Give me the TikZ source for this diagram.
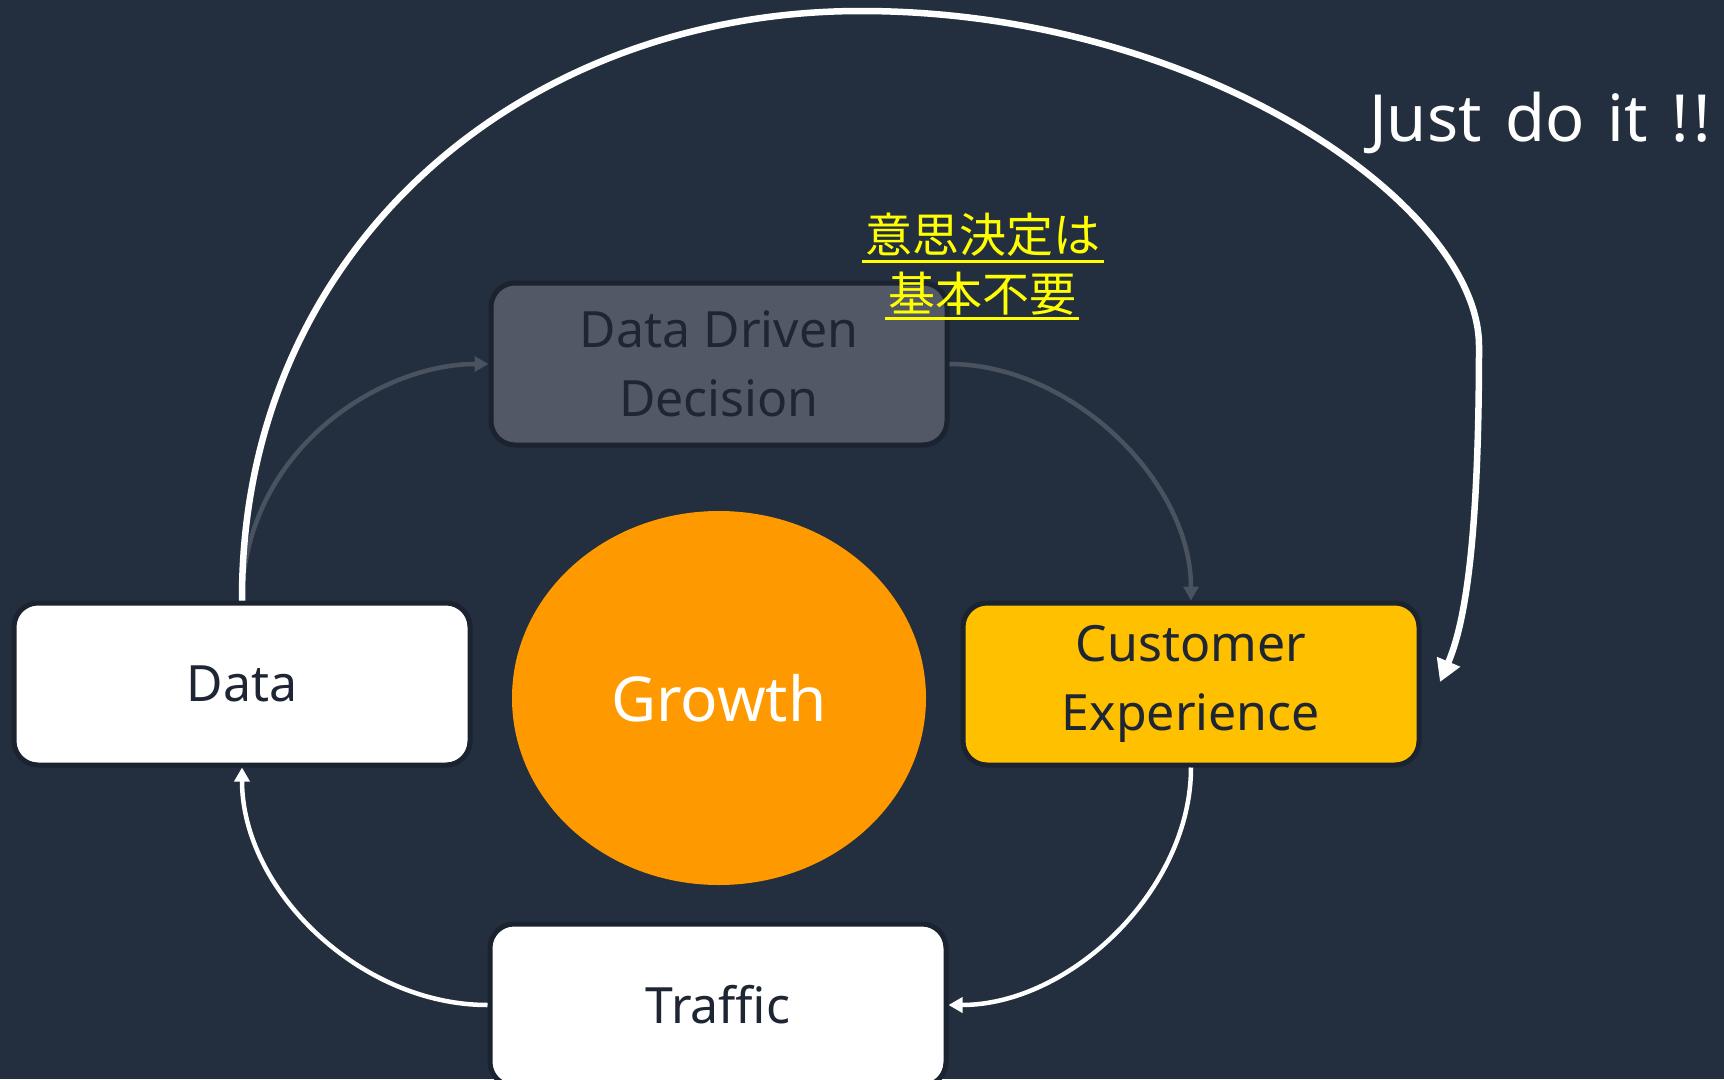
\documentclass[tikz,border=0pt]{standalone}
\usepackage{fontspec}
\setmainfont{Noto Sans}
\newfontfamily\cjk{Noto Sans CJK JP}
\usetikzlibrary{arrows.meta,calc,shapes.geometric}

\definecolor{bg}{HTML}{232F3E}
\definecolor{edgeline}{HTML}{1B2230}
\definecolor{ink}{HTML}{1E2533}
\definecolor{ddfill}{HTML}{525866}
\definecolor{cxfill}{HTML}{FFC000}
\definecolor{growthfill}{HTML}{FF9900}
\definecolor{faint}{HTML}{4A5260}
\definecolor{jpyellow}{HTML}{FFFF00}

\newcommand{\widespaces}{\spaceskip=0.36em\relax}

\begin{document}
\begin{tikzpicture}[x=1pt,y=-1pt,
  box/.style={draw=edgeline, line width=5pt, rounded corners=24pt,
    minimum width=456pt, minimum height=162pt, inner sep=0pt,
    align=center, text=ink, font=\fontsize{50}{69}\selectfont},
  faintlink/.style={draw=faint, line width=4.5pt,
    -{Triangle[length=14pt,width=15pt]}},
  whitelink/.style={draw=white, line width=4.5pt,
    -{Triangle[length=14pt,width=15pt]}},
  looplink/.style={draw=white, line width=6.5pt,
    -{Triangle[length=22pt,width=24pt]}},
  jptext/.style={text=jpyellow, inner sep=0pt, anchor=base,
    font=\cjk\fontsize{47}{56}\selectfont},
  jpline/.style={draw=jpyellow, line width=3pt}]

% canvas
\fill[bg] (0,0) rectangle (1724,1079);
\useasboundingbox (0,0) rectangle (1724,1079);
\clip (0,0) rectangle (1724,1079);

% boxes of the cycle
\node[box, fill=white]  (data)    at (242,684)  {Data};
\node[box, fill=ddfill] (ddd)     at (719,364)  {Data Driven\\Decision};
\node[box, fill=cxfill] (cx)      at (1191,684) {Customer\\Experience};
\node[box, fill=white]  (traffic) at (718,1005) {Traffic};

% centre
\node[ellipse, fill=growthfill, minimum width=414pt, minimum height=374pt,
      inner sep=0pt, text=white, font=\fontsize{62}{70}\selectfont]
      (growth) at (719,698) {Growth};

% end of the shortcut loop
\coordinate (loopend) at (1440,682);

% cycle connectors
\draw[faintlink] (data.north) .. controls (244,450) and (380,364) .. (ddd.west);
\draw[faintlink] (ddd.east) .. controls (1070,364) and (1191,480) .. (cx.north);
\draw[whitelink] (cx.south) .. controls (1191,890) and (1070,1005) .. (traffic.east);
\draw[whitelink] (traffic.west) .. controls (360,1005) and (242,890) .. (data.south);

% shortcut loop from Data straight to Customer Experience
\draw[looplink] (data.north)
  .. controls (241,250) and (520,11) .. (861,11)
  .. controls (1200,11) and (1479,205) .. (1479,346)
  .. controls (1479,560) and (1462,630) .. (loopend);

\node[anchor=base west, inner sep=0pt, text=white,
      font=\fontsize{65}{72}\selectfont]
      (jdi) at (1369,141) {\widespaces Just do it !\kern5pt!};

% note in Japanese
\node[jptext] (jp1) at (983,252) {意思決定は};
\node[jptext] (jp2) at (982,311) {基本不要};
\draw[jpline] ($(jp1.base west)+(-3,9)$) -- ($(jp1.base east)+(3,9)$);
\draw[jpline] ($(jp2.base west)+(-3,7)$) -- ($(jp2.base east)+(3,7)$);

\end{tikzpicture}
\end{document}
